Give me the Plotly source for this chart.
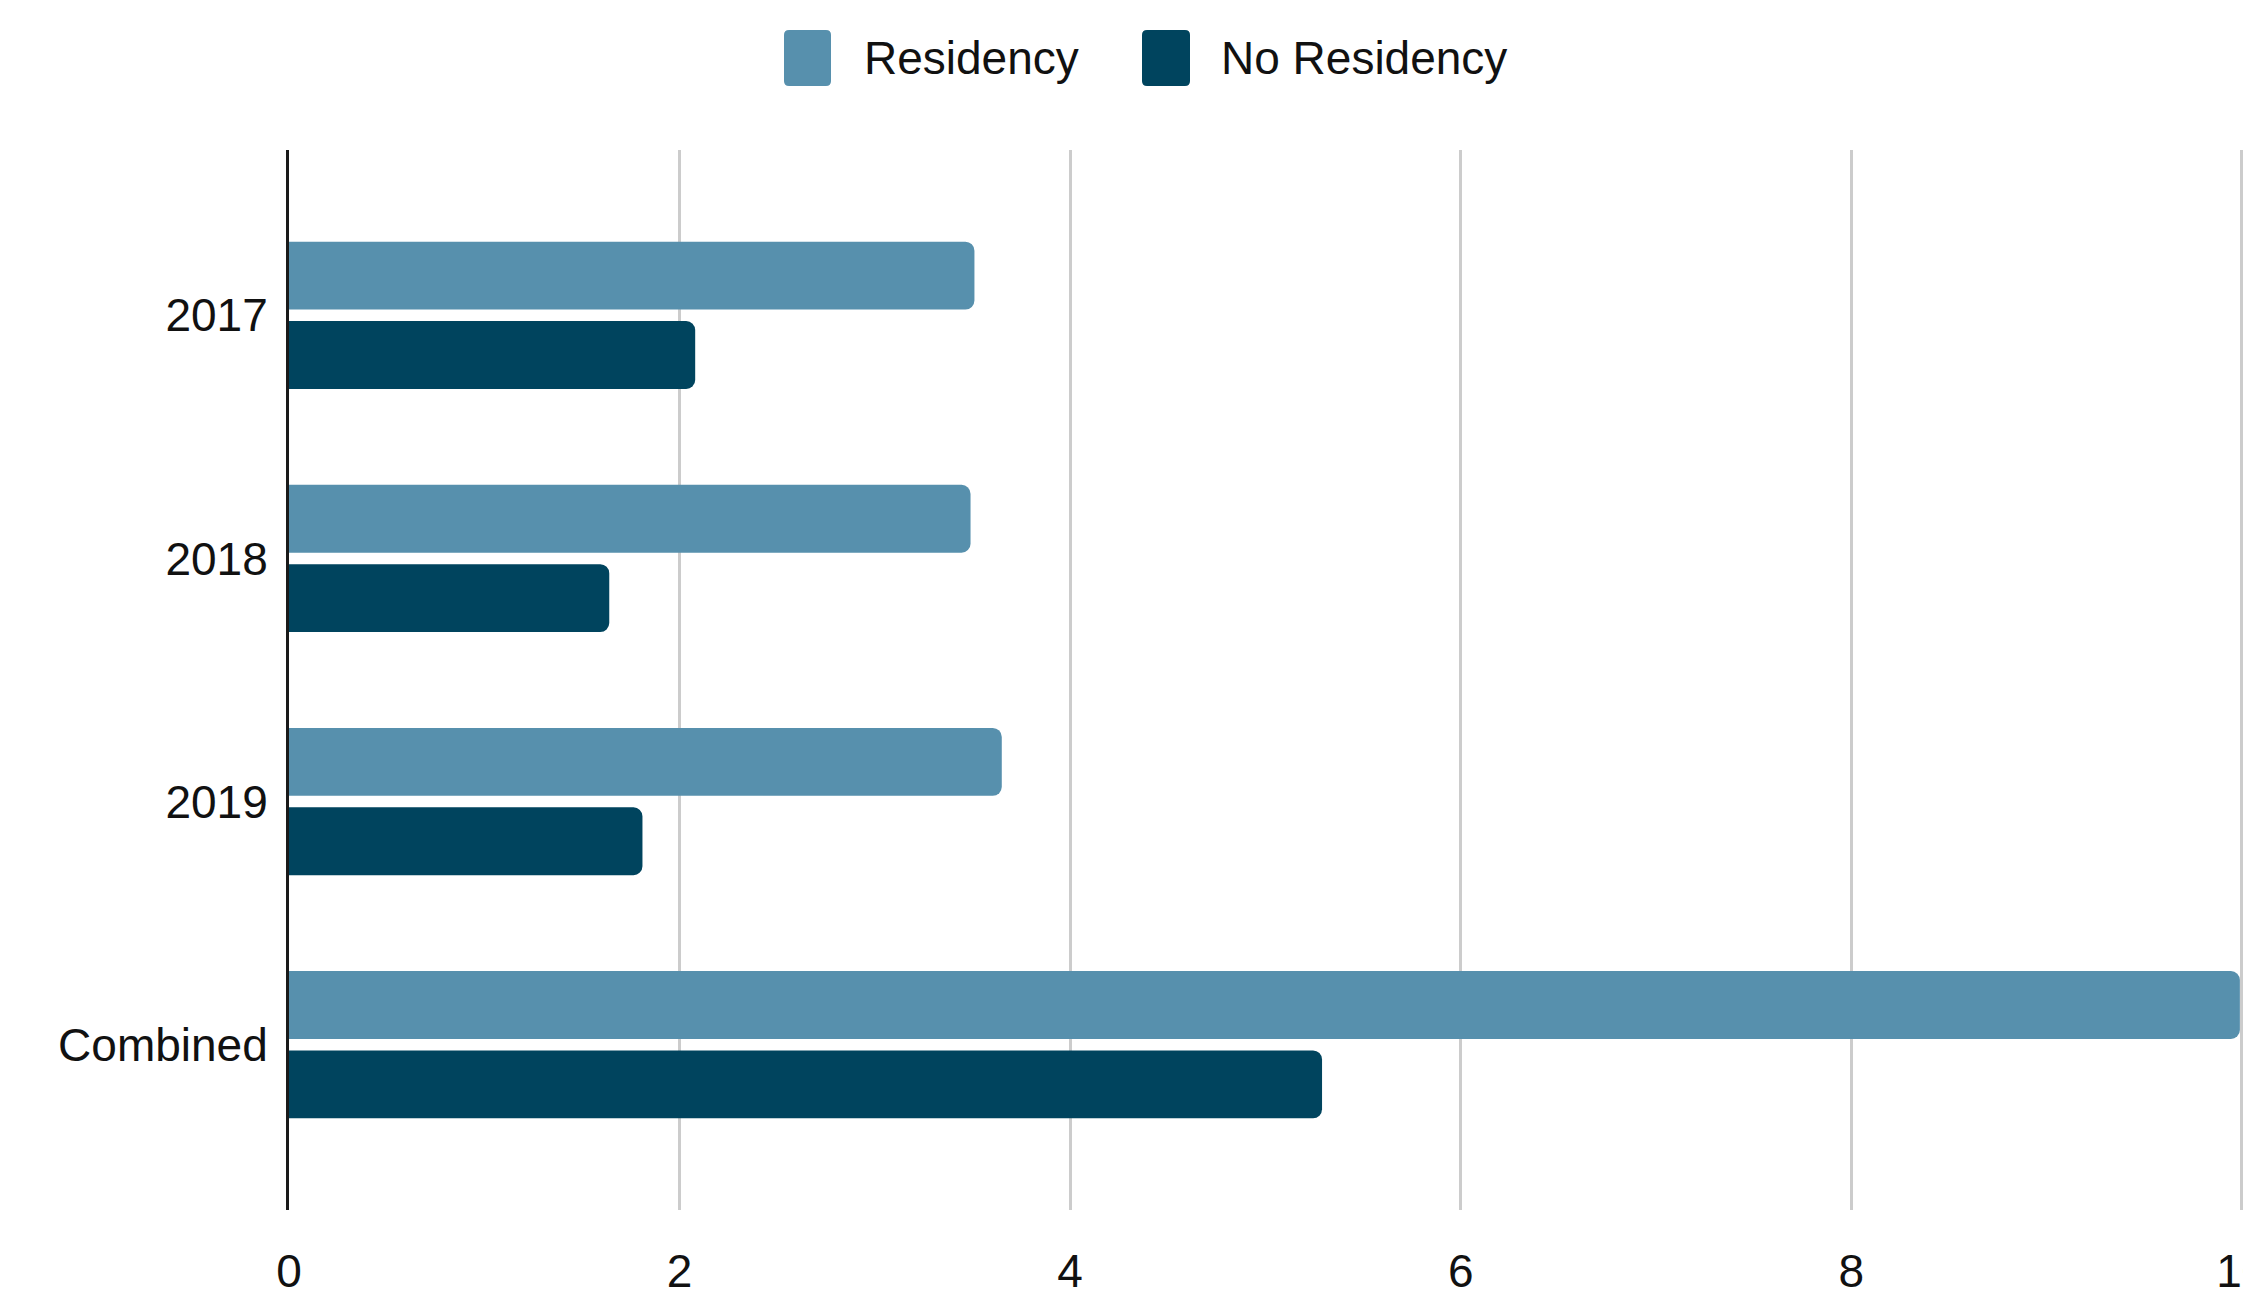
import plotly.graph_objects as go

# Categories and series values
categories = ["2017", "2018", "2019", "Combined"]
residency = [3.51, 3.49, 3.65, 9.99]
no_residency = [2.08, 1.64, 1.81, 5.29]
x_ticks = [0, 2, 4, 6, 8, 10]
series_names = ["Residency", "No Residency"]
series_colors = ["#5790AD", "#00445E"]

W, H = 2243, 1302
M_L, M_R, M_T, M_B = 289, 0, 150, 92
FONT = "Liberation Sans, Arial, sans-serif"
FSIZE = 46


def px_x(px):
    return (px - M_L) / (W - M_L - M_R)


def px_y(py):
    return (H - M_B - py) / (H - M_T - M_B)


fig = go.Figure()
for name, vals, col in zip(series_names, [residency, no_residency], series_colors):
    fig.add_trace(go.Bar(
        y=categories, x=vals, name=name, orientation="h",
        marker=dict(color=col, cornerradius=9, line=dict(width=0)),
        showlegend=False,
    ))

# Legend drawn as rounded swatches with labels across the top
legend_items = [(784, 831, 862), (1142, 1190, 1219)]
shapes = []
annotations = []
for (x0, x1, tx), name, col in zip(legend_items, series_names, series_colors):
    y0, y1 = 30, 86
    r = 5
    path = (
        f"M {px_x(x0 + r)},{px_y(y0)} L {px_x(x1 - r)},{px_y(y0)} "
        f"Q {px_x(x1)},{px_y(y0)} {px_x(x1)},{px_y(y0 + r)} "
        f"L {px_x(x1)},{px_y(y1 - r)} Q {px_x(x1)},{px_y(y1)} {px_x(x1 - r)},{px_y(y1)} "
        f"L {px_x(x0 + r)},{px_y(y1)} Q {px_x(x0)},{px_y(y1)} {px_x(x0)},{px_y(y1 - r)} "
        f"L {px_x(x0)},{px_y(y0 + r)} Q {px_x(x0)},{px_y(y0)} {px_x(x0 + r)},{px_y(y0)} Z"
    )
    shapes.append(dict(type="path", xref="paper", yref="paper", path=path,
                       fillcolor=col, line=dict(width=0), layer="above"))
    annotations.append(dict(
        x=px_x(tx), y=px_y(58), xref="paper", yref="paper",
        xanchor="left", yanchor="middle", showarrow=False,
        text=name, font=dict(family=FONT, size=FSIZE, color="#111111"),
    ))

fig.update_layout(
    width=W, height=H,
    template="none",
    margin=dict(l=M_L, r=M_R, t=M_T, b=M_B, pad=0),
    paper_bgcolor="white", plot_bgcolor="white",
    barmode="group", bargap=0.347, bargroupgap=0.144,
    showlegend=False,
    shapes=shapes, annotations=annotations,
    font=dict(family=FONT, size=FSIZE, color="#111111"),
    xaxis=dict(
        range=[0, 10.006], tickvals=x_ticks, ticktext=[str(v) for v in x_ticks],
        showgrid=True, gridcolor="#cccccc", gridwidth=3,
        zeroline=False, showline=False, ticks="",
        ticklabelstandoff=30, ticklabeloverflow="allow", automargin=False,
        tickfont=dict(family=FONT, size=FSIZE, color="#111111"),
    ),
    yaxis=dict(
        type="category", categoryorder="array", categoryarray=categories,
        range=[3.68, -0.68], showgrid=False, zeroline=False,
        showline=True, linecolor="#1a1a1a", linewidth=3, ticks="",
        ticklabelstandoff=9, automargin=False,
        tickfont=dict(family=FONT, size=FSIZE, color="#111111"),
    ),
)

fig.write_html("out.html")
